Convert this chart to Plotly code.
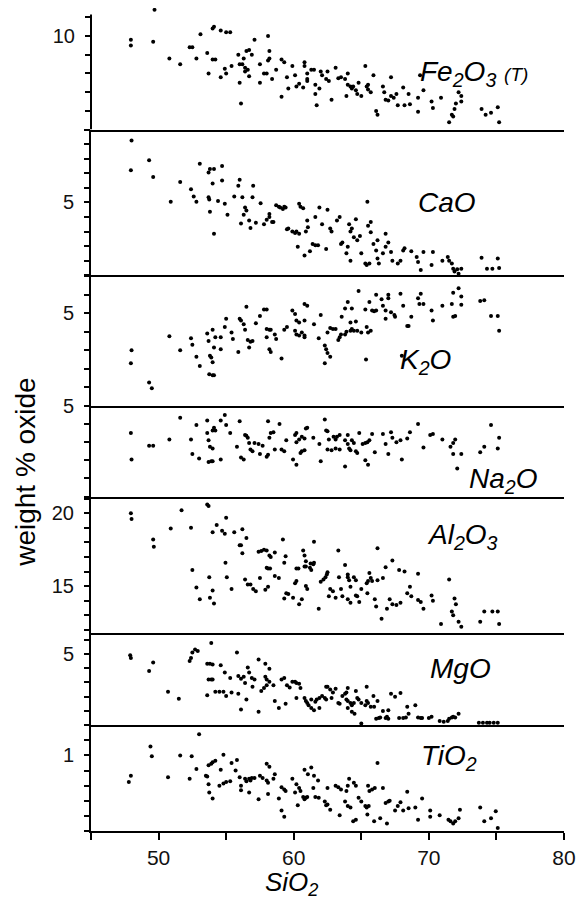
import plotly.graph_objects as go
from plotly.subplots import make_subplots

fe2o3_pts = [(47.95,9.8),(47.95,9.5),(49.6,9.7),(49.7,11.4),(50.8,8.8),(51.6,8.5),(52.3,9.4),(52.5,9.4),(52.8,8.8),(53.1,10.1),
    (53.6,9.1),(53.7,8.0),(54.0,10.4),(54.1,10.5),(54.0,8.75),(54.2,8.75),(54.6,7.8),(54.9,8.25),(55.0,8.0),(54.6,10.3),
    (55.0,10.2),(55.3,10.2),(55.4,8.4),(55.9,9.0),(56.0,8.5),(56.2,8.5),(56.3,8.8),(56.0,7.5),(56.1,6.4),(56.4,8.1),
    (56.5,9.2),(56.7,9.25),(56.9,9.0),(56.4,8.3),(56.6,8.2),(56.7,7.85),(57.1,9.8),(57.5,8.5),(57.5,7.5),(57.8,8.0),
    (58.0,8.0),(58.1,10.0),(58.2,9.2),(58.2,8.8),(58.1,8.7),(58.4,7.7),(58.7,8.2),(59.1,8.75),(59.3,8.6),(59.5,7.8),
    (59.6,7.2),(59.1,6.75),(59.9,8.4),(60.1,7.9),(60.2,7.3),(60.4,7.45),(60.7,7.25),(60.8,8.6),(60.8,8.4),(61.0,8.0),
    (61.0,7.7),(61.0,7.6),(61.3,8.2),(61.5,8.2),(61.6,7.4),(61.6,6.9),(61.7,6.3),(61.9,7.2),(62.0,8.1),(62.1,7.9),
    (62.4,7.7),(62.5,8.1),(62.6,7.6),(62.8,6.6),(63.1,8.3),(63.3,7.75),(63.5,7.8),(63.8,7.7),(63.9,6.8),(64.0,8.0),
    (64.0,7.4),(64.2,7.3),(64.3,7.2),(64.4,7.3),(64.6,7.1),(64.7,6.9),(64.8,7.5),(65.0,6.8),(65.3,8.4),(65.4,7.3),
    (65.5,7.15),(65.7,7.0),(65.5,7.4),(65.9,7.9),(66.1,6.0),(66.2,5.8),(66.6,7.3),(66.7,7.0),(66.8,6.6),(67.0,6.55),
    (67.2,6.8),(67.2,7.8),(67.4,6.7),(67.6,6.9),(67.7,6.3),(68.1,7.25),(68.2,6.3),(68.5,6.9),(68.6,6.35),(69.2,6.7),
    (69.2,5.95),(69.35,7.9),(69.6,7.1),(70.2,6.5),(70.3,6.15),(70.9,6.7),(71.5,5.4),(71.7,5.8),(71.8,5.7),(71.9,6.1),
    (72.0,6.4),(72.2,7.0),(72.4,6.8),(72.4,6.5),(73.9,6.1),(74.2,5.8),(74.6,5.9),(75.1,6.2),(75.2,5.4)]

cao_pts = [(48.0,9.25),(47.95,7.2),(49.3,7.9),(49.6,6.75),(50.9,5.05),(51.6,6.4),(52.4,5.9),(52.6,5.4),(52.8,5.05),(53.05,7.65),
    (53.7,7.05),(53.8,7.3),(54.1,7.3),(54.7,7.5),(53.7,5.35),(53.75,5.2),(53.8,4.35),(54.0,6.3),(54.1,2.85),(54.4,5.1),
    (54.7,6.5),(54.9,4.9),(55.1,4.15),(55.6,5.4),(55.9,6.15),(56.0,6.55),(56.1,3.55),(56.2,5.35),(56.3,4.15),(56.4,4.65),
    (56.5,4.45),(56.7,3.75),(56.8,3.25),(56.95,5.35),(57.0,6.15),(57.2,3.6),(57.55,4.95),(57.8,3.5),(58.0,3.8),(58.2,4.0),
    (58.2,4.2),(58.4,3.65),(58.5,3.65),(58.7,4.8),(58.9,4.7),(59.0,4.65),(59.2,4.55),(59.3,4.7),(59.4,4.65),(59.5,3.15),
    (59.6,3.2),(59.9,3.0),(60.1,2.9),(60.2,3.0),(60.4,2.85),(60.3,1.95),(60.4,4.9),(60.5,4.7),(60.7,4.6),(60.8,1.35),
    (60.9,3.0),(61.0,3.75),(61.05,3.3),(61.2,1.65),(61.4,2.15),(61.6,2.05),(61.8,2.05),(61.6,4.0),(61.9,4.65),(62.1,3.5),
    (62.4,1.8),(62.5,4.5),(62.7,3.2),(62.8,3.0),(63.2,3.75),(63.4,4.0),(63.5,2.15),(63.6,2.25),(63.9,1.5),(64.0,1.95),
    (64.1,3.5),(64.2,3.0),(64.3,3.2),(64.2,1.0),(64.45,2.6),(64.6,3.85),(64.7,2.4),(64.9,2.7),(65.0,1.5),(65.3,0.8),
    (65.4,0.7),(65.6,0.8),(65.45,5.05),(65.5,3.4),(65.7,3.65),(65.7,2.95),(65.9,2.15),(66.1,1.7),(66.2,1.15),(66.2,2.4),
    (66.3,0.8),(66.6,1.5),(66.8,2.85),(66.8,1.95),(67.0,2.25),(67.2,1.6),(67.3,1.0),(67.7,0.8),(67.9,1.0),(68.1,1.7),
    (68.2,1.85),(68.7,1.65),(69.1,1.25),(69.2,0.9),(69.4,0.35),(69.6,1.6),(70.2,0.7),(70.3,1.6),(71.0,1.0),(71.4,1.25),
    (71.5,1.0),(71.7,0.8),(71.8,0.45),(71.9,0.25),(72.1,0.4),(72.2,0.1),(72.4,0.45),(73.9,1.2),(74.3,0.45),(74.7,0.45),
    (75.1,1.15),(75.2,0.5)]

k2o_pts = [(47.95,2.3),(48.0,3.0),(49.3,1.25),(49.5,0.95),(50.8,3.75),(51.6,3.0),(52.4,3.65),(52.5,3.3),(52.8,2.65),(53.05,2.15),
    (53.6,3.9),(53.7,3.5),(53.8,2.7),(53.9,2.6),(53.75,1.7),(54.0,1.65),(54.1,1.65),(54.0,4.1),(54.0,2.35),(54.1,3.15),
    (54.2,3.7),(54.6,3.7),(54.6,3.05),(54.9,4.25),(55.0,4.7),(55.4,3.95),(55.5,3.6),(55.9,2.9),(56.0,4.7),(56.1,4.6),
    (56.3,4.4),(56.4,4.1),(56.6,3.55),(56.8,3.45),(56.95,3.5),(56.5,5.35),(56.7,3.15),(57.2,4.45),(57.5,4.85),(57.8,5.2),
    (58.0,5.2),(58.0,4.15),(58.2,4.1),(58.3,4.1),(58.0,3.7),(58.2,3.05),(58.3,2.9),(58.6,3.85),(58.7,3.6),(59.1,2.55),
    (59.3,4.1),(59.5,4.25),(59.9,5.15),(60.1,4.95),(60.2,4.6),(60.4,4.5),(60.1,4.05),(60.2,3.85),(60.4,3.8),(60.6,3.95),
    (60.8,3.8),(60.8,3.7),(60.8,4.6),(60.8,5.5),(61.0,5.4),(61.5,4.4),(61.85,3.65),(62.0,4.9),(62.3,3.25),(62.4,3.05),
    (62.3,2.3),(62.7,2.65),(62.5,2.85),(62.5,3.95),(62.7,4.2),(62.9,4.15),(63.1,4.15),(63.3,3.55),(63.4,3.7),(63.5,3.85),
    (63.55,4.8),(63.8,3.85),(63.9,4.0),(63.8,5.25),(64.0,5.6),(64.2,4.05),(64.3,4.15),(64.45,4.05),(64.2,4.5),(64.3,5.25),
    (64.6,4.55),(64.7,4.05),(64.8,6.2),(65.0,3.95),(65.3,5.2),(65.35,2.5),(65.4,4.25),(65.5,3.95),(65.7,4.05),(65.6,5.6),
    (65.8,5.15),(65.95,5.1),(66.1,5.15),(66.1,6.0),(66.5,5.75),(66.6,5.4),(66.8,5.15),(66.8,4.7),(67.0,6.0),(67.0,5.8),
    (67.2,5.05),(67.45,4.9),(67.5,4.8),(67.9,6.05),(68.0,2.7),(68.1,5.4),(68.4,4.3),(68.5,4.3),(68.7,4.8),(69.2,5.8),
    (69.3,5.5),(69.4,6.05),(69.6,5.5),(70.2,5.15),(70.3,4.6),(71.0,5.4),(71.7,5.5),(71.8,4.8),(71.95,4.85),(71.8,6.1),
    (72.2,6.35),(72.4,5.9),(72.4,5.45),(73.8,5.65),(74.1,5.7),(74.6,4.85),(75.1,4.85),(75.2,4.05)]

na2o_pts = [(47.95,3.5),(48.0,2.05),(49.3,2.8),(49.6,2.8),(50.8,3.15),(51.6,4.35),(52.4,3.15),(52.5,2.35),(52.8,3.95),(53.0,2.1),
    (53.6,4.2),(53.6,3.5),(53.7,3.1),(53.7,1.9),(53.9,1.95),(54.0,1.95),(53.8,2.75),(54.0,2.65),(54.0,3.65),(54.2,3.65),
    (54.1,3.8),(54.6,2.05),(54.6,4.2),(54.9,4.5),(55.0,3.95),(55.3,3.5),(55.8,2.75),(56.0,4.15),(56.1,2.15),(56.3,2.05),
    (56.4,3.4),(56.5,3.35),(56.6,3.25),(56.7,2.95),(56.8,2.6),(56.95,2.5),(57.1,2.95),(57.4,2.9),(57.5,2.35),(57.7,2.8),
    (58.0,2.2),(58.1,2.3),(58.1,4.15),(58.2,3.25),(58.3,3.5),(58.5,3.55),(58.6,2.6),(58.95,4.0),(59.1,2.6),(59.3,2.5),
    (59.45,3.1),(59.95,2.05),(60.2,1.75),(60.1,3.4),(60.2,3.5),(60.4,3.15),(60.2,3.0),(60.5,2.4),(60.6,2.5),(60.8,2.55),
    (60.6,3.3),(60.8,3.2),(60.9,3.75),(61.0,3.8),(61.45,3.25),(61.9,2.9),(62.0,1.95),(62.3,4.25),(62.4,3.65),(62.5,3.6),
    (62.6,3.15),(62.5,2.6),(62.8,2.55),(62.95,3.3),(63.1,3.15),(63.2,3.3),(63.4,3.4),(63.1,2.65),(63.4,2.6),(63.8,3.1),
    (63.8,1.65),(64.0,2.9),(64.0,3.4),(64.1,2.65),(64.2,2.55),(64.3,3.1),(64.45,2.95),(64.6,2.5),(64.7,2.4),(64.85,3.5),
    (65.1,2.9),(65.3,2.95),(65.45,3.0),(65.6,3.1),(65.3,2.0),(65.5,1.75),(65.8,3.45),(66.0,2.45),(66.6,3.45),(66.8,2.9),
    (67.0,2.35),(67.2,3.55),(67.3,3.25),(67.6,3.0),(67.9,3.1),(68.0,2.05),(68.4,3.2),(68.6,3.55),(69.2,4.0),(69.6,2.7),
    (70.1,3.4),(70.3,3.45),(71.0,3.15),(71.6,2.75),(71.8,2.95),(71.95,3.15),(71.8,2.35),(72.1,1.55),(72.4,2.35),(73.8,2.45),
    (74.1,2.75),(74.6,3.95),(75.1,2.65),(75.2,3.25)]

al2o3_pts = [(47.95,20.0),(48.0,19.6),(49.6,18.2),(49.65,17.7),(50.9,18.95),(51.7,20.2),(52.4,19.0),(52.5,16.1),(52.8,14.9),(53.05,14.1),
    (53.6,20.6),(53.7,20.5),(53.75,15.6),(53.8,14.2),(54.0,14.7),(54.1,13.8),(54.0,18.7),(54.3,19.2),(54.7,18.8),(54.9,18.6),
    (55.0,19.7),(54.95,16.6),(55.05,15.6),(55.4,14.8),(55.6,18.7),(56.0,17.8),(56.1,17.8),(56.2,17.25),(56.2,18.9),(56.4,15.45),
    (56.6,15.1),(56.8,15.1),(56.5,18.3),(57.0,14.8),(57.2,14.65),(57.4,17.35),(57.6,17.4),(57.8,17.5),(58.0,17.45),(57.5,15.55),
    (57.9,14.75),(58.1,14.95),(58.0,16.25),(58.1,16.2),(58.25,16.2),(58.2,17.1),(58.3,17.0),(58.6,17.3),(58.6,15.7),(58.9,15.55),
    (59.2,18.2),(59.3,16.6),(59.4,17.05),(59.3,14.15),(59.45,14.5),(59.6,14.45),(59.95,14.2),(60.4,13.75),(60.2,16.2),(60.35,16.2),
    (60.1,15.2),(60.2,15.35),(60.6,14.1),(60.7,17.45),(60.8,17.1),(60.9,16.7),(60.8,16.35),(60.9,16.35),(60.9,15.0),(61.0,14.8),
    (61.25,16.55),(61.45,16.5),(61.5,16.6),(61.5,18.05),(61.2,16.25),(61.3,16.1),(61.85,13.45),(62.0,15.3),(62.2,15.45),(62.35,15.6),
    (62.45,15.8),(62.5,15.95),(62.6,14.3),(62.7,14.8),(62.9,14.65),(63.1,14.2),(63.3,17.45),(63.35,15.6),(63.5,14.8),(63.6,14.3),
    (63.8,16.45),(64.0,15.8),(64.0,15.6),(64.1,15.4),(64.2,14.95),(64.0,14.1),(64.2,13.85),(64.45,15.6),(64.6,15.4),(64.6,14.35),
    (64.7,14.3),(64.85,13.9),(65.0,14.8),(65.4,15.2),(65.5,15.35),(65.6,15.9),(65.45,14.5),(65.7,15.55),(65.8,15.35),(66.0,14.1),
    (66.1,13.6),(66.2,15.4),(66.2,17.6),(66.5,12.75),(66.6,15.55),(66.8,16.3),(66.9,13.45),(67.1,14.1),(67.3,13.75),(67.3,16.75),
    (67.6,13.7),(67.9,13.85),(67.8,16.1),(68.2,16.0),(68.4,14.5),(68.6,14.95),(68.7,14.3),(69.2,14.05),(69.4,13.9),(69.2,15.85),
    (69.6,13.45),(70.2,14.35),(70.3,14.0),(70.9,12.4),(71.5,15.45),(71.7,13.25),(71.8,13.0),(71.9,14.15),(72.0,13.75),(72.2,12.55),
    (72.4,12.2),(73.8,12.55),(74.1,13.25),(74.7,13.25),(75.1,13.25),(75.2,12.4)]

mgo_pts = [(47.9,4.9),(47.95,4.7),(49.3,3.8),(49.6,4.4),(50.7,2.35),(51.5,1.85),(52.3,4.5),(52.4,4.7),(52.5,5.1),(52.7,5.3),
    (52.9,5.2),(53.6,4.3),(53.8,4.3),(54.0,4.25),(53.9,5.75),(53.7,3.2),(53.9,3.2),(54.0,3.2),(53.6,2.1),(54.2,2.35),
    (54.5,2.35),(54.8,2.35),(55.0,2.05),(54.6,4.2),(54.9,3.7),(55.3,3.3),(55.4,2.3),(55.9,2.2),(56.1,1.1),(55.8,5.1),
    (55.9,3.45),(56.1,3.25),(56.3,3.4),(56.4,2.95),(56.5,1.8),(56.6,4.05),(56.7,3.7),(56.9,3.3),(57.1,3.2),(56.95,2.7),
    (57.4,4.6),(57.4,0.95),(57.6,2.4),(57.8,2.6),(58.0,2.8),(57.9,4.3),(58.2,3.95),(57.9,3.4),(58.0,3.2),(58.2,3.05),
    (58.5,2.8),(58.6,1.7),(58.9,1.2),(59.1,3.2),(59.3,3.3),(59.4,1.5),(59.5,2.8),(59.7,2.65),(59.9,3.05),(60.1,3.05),
    (60.2,2.95),(60.2,1.9),(60.4,2.9),(60.5,2.6),(60.8,1.9),(60.9,1.7),(61.0,1.55),(61.1,1.4),(61.3,1.2),(61.5,1.05),
    (61.3,1.8),(61.6,1.65),(61.7,1.8),(61.9,1.2),(61.9,1.9),(62.1,2.05),(62.3,1.9),(62.4,2.7),(62.5,2.7),(62.4,1.8),
    (62.7,2.5),(62.9,2.3),(63.1,2.55),(62.8,1.9),(63.3,1.55),(63.4,1.5),(63.6,2.05),(63.8,2.2),(63.9,2.3),(64.0,2.6),
    (63.9,1.8),(64.0,1.7),(64.2,1.55),(64.3,1.4),(64.45,1.55),(64.0,1.2),(64.3,0.95),(64.5,0.8),(64.6,2.4),(64.7,1.9),
    (64.8,1.8),(65.0,0.12),(65.0,1.55),(65.3,1.4),(65.4,1.7),(65.5,1.55),(65.7,1.3),(65.4,2.7),(65.9,2.05),(65.95,1.3),
    (66.2,1.7),(66.1,0.45),(66.3,0.5),(66.4,0.55),(66.6,1.0),(66.8,0.5),(66.9,0.6),(67.0,0.45),(67.0,1.05),(67.2,2.2),
    (67.5,2.0),(67.9,2.25),(67.8,0.5),(68.1,0.5),(68.3,0.55),(68.4,1.3),(68.5,0.8),(69.0,1.4),(69.2,0.55),(69.4,0.5),
    (69.5,0.5),(70.0,0.5),(70.2,0.6),(70.8,0.3),(71.1,0.25),(71.4,0.3),(71.5,0.45),(71.7,0.55),(71.8,0.6),(71.95,0.55),
    (72.2,0.8),(73.7,0.18),(74.0,0.18),(74.3,0.18),(74.5,0.18),(74.8,0.18),(75.1,0.18)]

tio2_pts = [(47.8,0.65),(47.95,0.73),(49.4,1.12),(49.5,0.99),(50.7,0.71),(51.6,1.0),(52.3,0.69),(52.45,0.99),(52.8,0.82),(53.0,1.28),
    (53.5,0.73),(53.6,0.72),(53.7,0.62),(53.75,0.51),(53.7,0.87),(53.9,0.89),(54.0,0.91),(54.2,0.93),(54.0,0.43),(54.5,0.6),
    (54.8,0.63),(55.0,0.65),(55.3,0.66),(54.6,0.81),(54.8,1.01),(55.4,0.9),(55.8,0.94),(55.7,0.8),(56.0,0.71),(56.1,0.6),
    (56.1,0.54),(56.4,0.69),(56.7,0.69),(56.9,0.7),(57.1,0.7),(56.5,0.66),(56.8,0.67),(56.7,0.51),(57.4,0.42),(57.5,0.73),
    (57.7,0.7),(58.0,0.67),(58.1,0.64),(58.0,0.89),(58.2,0.85),(58.1,0.49),(58.6,0.75),(58.5,0.69),(58.9,0.43),(59.1,0.58),
    (59.3,0.55),(59.4,0.53),(59.1,0.27),(59.3,0.19),(59.9,0.69),(60.1,0.51),(60.2,0.62),(60.4,0.57),(60.5,0.53),(60.3,0.34),
    (60.7,0.45),(60.8,0.42),(60.9,0.44),(61.0,0.45),(60.8,0.81),(61.05,0.75),(61.3,0.84),(61.45,0.57),(61.6,0.45),(61.85,0.44),
    (61.5,0.73),(61.8,0.67),(62.3,0.39),(62.4,0.34),(62.5,0.35),(62.7,0.28),(62.5,0.57),(63.1,0.6),(63.3,0.58),(63.5,0.55),
    (63.4,0.21),(63.8,0.39),(63.9,0.53),(64.0,0.6),(64.1,0.69),(64.0,0.33),(64.2,0.31),(64.4,0.13),(64.6,0.15),(64.45,0.64),
    (64.6,0.6),(64.8,0.44),(65.0,0.39),(65.3,0.33),(65.4,0.31),(65.55,0.33),(65.5,0.6),(65.6,0.53),(65.8,0.55),(66.0,0.57),
    (65.45,0.22),(66.2,0.9),(65.95,0.13),(66.4,0.17),(66.6,0.57),(66.8,0.37),(67.0,0.39),(67.1,0.4),(66.9,0.1),(67.5,0.27),
    (67.7,0.33),(67.9,0.38),(68.1,0.27),(68.4,0.52),(68.5,0.3),(69.0,0.31),(69.2,0.15),(69.5,0.43),(70.1,0.27),(70.1,0.19),
    (70.8,0.21),(71.45,0.15),(71.6,0.13),(71.8,0.1),(71.95,0.13),(72.2,0.17),(72.3,0.28),(73.8,0.31),(74.1,0.13),(74.6,0.17),
    (74.95,0.26),(75.1,0.04)]

# panel: points, y range, spine top, minor tick step, labelled ticks, label text, label centre (px)
panels = [
    (fe2o3_pts, [5, 11.5], 11.15, 1, [10],
     "<i>Fe<sub>2</sub>O<sub>3</sub> <span style='font-size:19px'>(T)</span></i>", (474, 74)),
    (cao_pts, [0, 10], None, 1, [5], "<i>CaO</i>", (447, 203)),
    (k2o_pts, [0, 7.05], None, 1, [5], "<i>K<sub>2</sub>O</i>", (425, 362)),
    (na2o_pts, [0, 5.01], None, 1, [5], "<i>Na<sub>2</sub>O</i>", (503, 481)),
    (al2o3_pts, [11.75, 21.15], None, 1, [15, 20], "<i>Al<sub>2</sub>O<sub>3</sub></i>", (462, 537)),
    (mgo_pts, [0, 6.43], None, 1, [5], "<i>MgO</i>", (460, 669)),
    (tio2_pts, [0, 1.4], None, 0.2, [1], "<i>TiO<sub>2</sub></i>", (449, 758)),
]
# panel heights in px; the top one includes the headroom above the spine
row_px = [115 + 0.35 * 18.7, 145.5, 130.5, 90.7, 136.8, 91.8, 105.7]

sio2_labels = [50, 60, 70, 80]
sio2_minor = [45, 50, 55, 60, 65, 70, 75, 80]

W, H = 580, 900
L, R, B = 91, 16, 69
T = H - B - sum(row_px)
pw, ph = W - L - R, H - T - B

def px(x):
    return (x - L) / pw

def py(y):
    return (H - B - y) / ph

fig = make_subplots(rows=7, cols=1, shared_xaxes=True, vertical_spacing=0,
                    row_heights=[h / sum(row_px) for h in row_px])

font = "Liberation Sans, Arial, sans-serif"

for i, (pts, yr, spine_top, step, labelled, name, pos) in enumerate(panels):
    r = i + 1
    xs = [p[0] for p in pts]
    ys = [p[1] for p in pts]
    fig.add_trace(go.Scatter(x=xs, y=ys, mode="markers",
                             marker=dict(size=4, color="black"), showlegend=False),
                  row=r, col=1)
    top = spine_top if spine_top is not None else yr[1]
    k0 = int(yr[0] / step + 0.999)
    k1 = int(top / step + 1e-6)
    minor_vals = [round(k * step, 3) for k in range(k0, k1 + 1)]
    fig.update_yaxes(range=yr, tickmode="array", tickvals=labelled, ticks="outside", ticklen=5,
                     tickwidth=1.5, tickcolor="black",
                     minor=dict(tickmode="array", tickvals=minor_vals, ticks="outside",
                                ticklen=5, tickwidth=1.5, tickcolor="black", showgrid=False),
                     showline=spine_top is None, linewidth=2, linecolor="black", showgrid=False,
                     zeroline=False, ticklabelstandoff=6, automargin=False,
                     tickfont=dict(size=20, color="#111", family=font),
                     row=r, col=1)
    fig.update_xaxes(range=[45, 80], showline=True, linewidth=2, linecolor="black",
                     showgrid=False, zeroline=False, automargin=False, row=r, col=1)
    if spine_top is not None:
        # spine stops short of the axis top, as in the original
        fig.add_shape(type="line", xref="x domain", yref="y", x0=0, x1=0,
                      y0=yr[0], y1=spine_top, line=dict(color="black", width=2))
    fig.add_annotation(text=name, x=px(pos[0]), y=py(pos[1]), xref="paper", yref="paper",
                       xanchor="center", yanchor="middle", showarrow=False,
                       font=dict(size=28, color="black", family=font))

fig.update_xaxes(tickmode="array", tickvals=sio2_labels, ticks="outside", ticklen=7,
                 tickwidth=1.5, tickcolor="black",
                 minor=dict(tickmode="array", tickvals=sio2_minor, ticks="outside",
                            ticklen=7, tickwidth=1.5, tickcolor="black", showgrid=False),
                 tickfont=dict(size=21, color="#111", family=font), row=7, col=1)

fig.add_annotation(text="weight % oxide", textangle=-90, x=px(26), y=py(473),
                   xref="paper", yref="paper", xanchor="center", yanchor="middle",
                   showarrow=False, font=dict(size=28, color="black", family=font))
fig.add_annotation(text="<i>SiO<sub>2</sub></i>", x=px(291), y=py(883),
                   xref="paper", yref="paper", xanchor="center", yanchor="middle",
                   showarrow=False, font=dict(size=26, color="black", family=font))

# transparent plot areas so no panel background hides its neighbour's axis line
fig.update_layout(width=W, height=H,
                  margin=dict(l=L, r=R, t=T, b=B, autoexpand=False),
                  plot_bgcolor="rgba(0,0,0,0)", paper_bgcolor="white")

fig.write_html("out.html", config={"displayModeBar": False},
               post_script="document.body.style.margin='0';")
